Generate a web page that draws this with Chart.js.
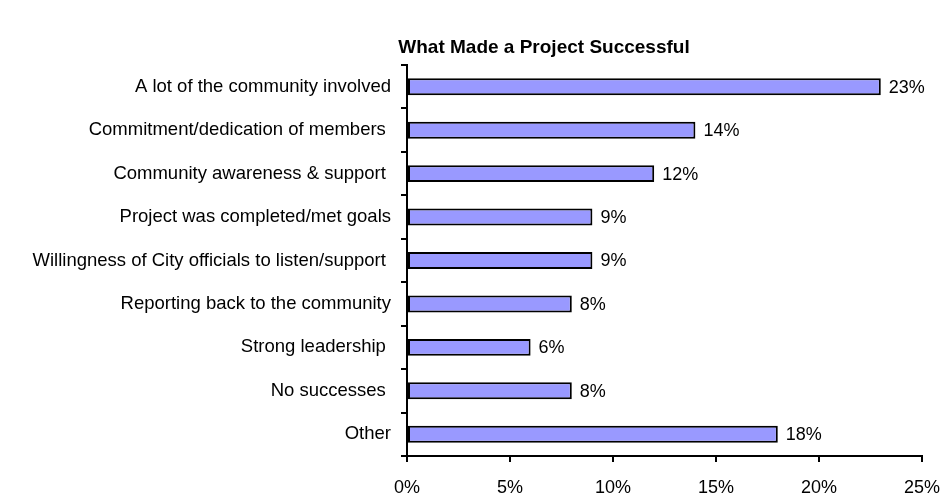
<!DOCTYPE html>
<html>
<head>
<meta charset="utf-8">
<script src="https://cdn.jsdelivr.net/npm/chart.js@4/dist/chart.umd.min.js"></script>
<style>
  html, body { margin: 0; padding: 0; background: #fff; }
  #wrap { width: 943px; height: 498px; position: relative; }
</style>
</head>
<body>
<div id="wrap"><canvas id="chart" width="943" height="498"></canvas></div>
<script>
// chart data
const categories = [
    'A lot of the community involved',
    'Commitment/dedication of members ',
    'Community awareness & support ',
    'Project was completed/met goals',
    'Willingness of City officials to listen/support ',
    'Reporting back to the community',
    'Strong leadership ',
    'No successes ',
    'Other'
];
const percentValues = [23, 14, 12, 9, 9, 8, 6, 8, 18];
const xTickValues = [0, 5, 10, 15, 20, 25];

const chartTitle = 'What Made a Project Successful';
const FONT = 'Arial, "Liberation Sans", sans-serif';

// Draw the title and value labels next to each bar
const labelPlugin = {
    id: 'labels',
    afterDatasetsDraw(chart) {
        const ctx = chart.ctx;
        const meta = chart.getDatasetMeta(0);
        ctx.save();
        ctx.fillStyle = '#000';
        ctx.font = '18px ' + FONT;
        ctx.textAlign = 'left';
        ctx.textBaseline = 'middle';
        meta.data.forEach((bar, i) => {
            ctx.fillText(percentValues[i] + '%', bar.x + 8, bar.y + 1);
        });
        ctx.font = 'bold 19px ' + FONT;
        ctx.textAlign = 'center';
        ctx.fillText(chartTitle, 544, 48);
        ctx.restore();
    }
};

new Chart(document.getElementById('chart').getContext('2d'), {
    type: 'bar',
    data: {
        labels: categories,
        datasets: [{
            data: percentValues,
            backgroundColor: '#9999FF',
            borderColor: '#000',
            borderWidth: 2,
            borderSkipped: false,
            barPercentage: 0.39,
            categoryPercentage: 1
        }]
    },
    options: {
        indexAxis: 'y',
        responsive: false,
        animation: false,
        layout: { padding: { top: 65, right: 21, bottom: 0, left: 0 } },
        plugins: {
            legend: { display: false },
            title: { display: false },
            tooltip: { enabled: false }
        },
        scales: {
            x: {
                min: 0,
                max: 25,
                afterBuildTicks(axis) {
                    axis.ticks = xTickValues.map(v => ({ value: v }));
                },
                afterFit(axis) {
                    axis.height = 42;
                    axis.paddingLeft = 0;
                    axis.paddingRight = 0;
                },
                grid: { drawOnChartArea: false, drawTicks: true, tickLength: 6, color: '#000', lineWidth: 2 },
                border: { color: '#000', width: 2 },
                ticks: {
                    color: '#000',
                    font: { family: FONT, size: 18 },
                    padding: 15,
                    maxRotation: 0,
                    callback: v => v + '%'
                }
            },
            y: {
                afterFit(axis) {
                    axis.width = 407;
                    axis.paddingTop = 0;
                    axis.paddingBottom = 0;
                },
                grid: { drawOnChartArea: false, drawTicks: true, tickLength: 6, color: '#000', lineWidth: 2, offset: true },
                border: { color: '#000', width: 2 },
                ticks: {
                    color: '#000',
                    font: { family: FONT, size: 18.5 },
                    padding: 10,
                    autoSkip: false
                }
            }
        }
    },
    plugins: [labelPlugin]
});
</script>
</body>
</html>
